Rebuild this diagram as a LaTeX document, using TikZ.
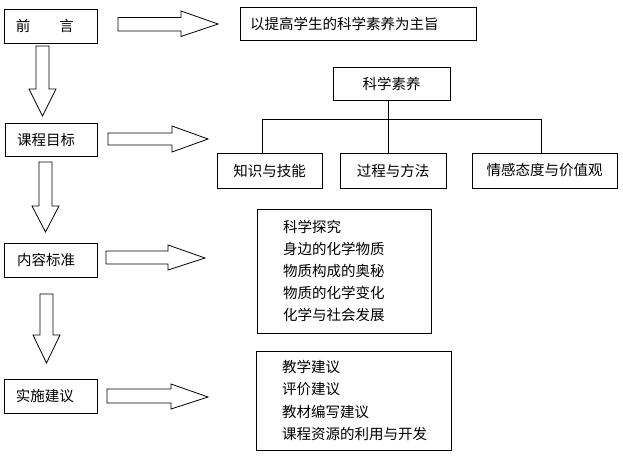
\documentclass[tikz,border=0pt]{standalone}
\usepackage{fontspec}
\setmainfont{Noto Sans CJK SC}
\newcommand\zhf{\fontsize{14.5}{22.2}\selectfont}
\begin{document}
\begin{tikzpicture}[x=1pt,y=-1pt,line width=0.8pt,
  box/.style={draw,rectangle,inner sep=0pt},
  txt/.style={inner sep=0pt,anchor=west,font=\zhf},
  ctxt/.style={box,font=\zhf},
  barrow/.style={draw,line join=miter,fill=white}]
\useasboundingbox (0,0) rectangle (623,460);
% left column boxes
\node[box,minimum width=93pt,minimum height=34pt] (qy) at (50.5,26) {};
\node[txt] (qyt) at ([xshift=12pt]qy.west) {前\hspace{29pt}言};
\node[box,minimum width=92pt,minimum height=33pt] (kc) at (51,139.5) {};
\node[txt] (kct) at ([xshift=12pt]kc.west) {课程目标};
\node[box,minimum width=93pt,minimum height=34pt] (nb) at (50.5,260) {};
\node[txt] (nbt) at ([xshift=13pt]nb.west) {内容标准};
\node[box,minimum width=93pt,minimum height=34pt] (sj) at (50.5,396) {};
\node[txt] (sjt) at ([xshift=12pt]sj.west) {实施建议};
% right side
\node[box,minimum width=236pt,minimum height=33pt] (zz) at (358,23.5) {};
\node[txt] (zzt) at ([xshift=10pt]zz.west) {以提高学生的科学素养为主旨};
\node[ctxt,minimum width=117pt,minimum height=33pt] (kx) at (391.5,83.5) {科学素养};
\node[ctxt,minimum width=105pt,minimum height=35pt] (zs) at (269.5,170.5) {知识与技能};
\node[ctxt,minimum width=106pt,minimum height=35pt] (gc) at (393,170.5) {过程与方法};
\node[ctxt,minimum width=145pt,minimum height=35pt] (qg) at (544.5,170.5) {情感态度与价值观};
\coordinate (bl) at (262,119);
\coordinate (bm) at (388,119);
\coordinate (br) at (541,119);
\draw (bl |- zs.north) -- (bl) -- (br) -- (br |- qg.north);
\draw (bm |- kx.south) -- (bm |- gc.north);
\node[box,minimum width=174pt,minimum height=124pt] (nl) at (344,271) {};
\node[txt,align=left] (nlt) at ([xshift=26pt]nl.west) {科学探究\\身边的化学物质\\物质构成的奥秘\\物质的化学变化\\化学与社会发展};
\node[box,minimum width=195pt,minimum height=99pt] (sl) at (353.5,400.5) {};
\node[txt,align=left] (slt) at ([xshift=26pt]sl.west) {教学建议\\评价建议\\教材编写建议\\课程资源的利用与开发};
% right block arrows
\draw[barrow] (118,17.5) -- (181,17.5) -- (181,11) -- (218,24) -- (181,36.5) -- (181,31) -- (118,31) -- cycle;
\draw[barrow] (108,133) -- (172,133) -- (172,126) -- (208,139) -- (172,152) -- (172,145) -- (108,145) -- cycle;
\draw[barrow] (106,251) -- (168,251) -- (168,245) -- (205,258) -- (168,270) -- (168,264) -- (106,264) -- cycle;
\draw[barrow] (107,389) -- (171,389) -- (171,384) -- (208,397) -- (171,409) -- (171,403) -- (107,403) -- cycle;
% down block arrows
\draw[barrow] (36,46) -- (49,46) -- (49,89) -- (56,89) -- (42.5,116) -- (29,89) -- (36,89) -- cycle;
\draw[barrow] (39,162) -- (52,162) -- (52,206) -- (59,206) -- (45.5,232) -- (32,206) -- (39,206) -- cycle;
\draw[barrow] (40,294) -- (53,294) -- (53,335) -- (60,335) -- (46.5,363) -- (33,335) -- (40,335) -- cycle;
\end{tikzpicture}
\end{document}
